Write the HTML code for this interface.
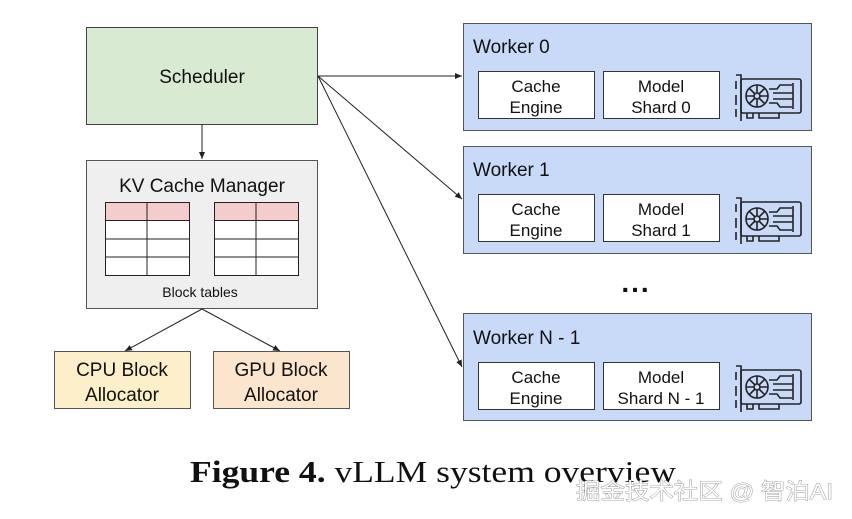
<!DOCTYPE html>
<html><head><meta charset="utf-8"><style>
html,body{margin:0;padding:0;background:#fff;width:852px;height:519px;overflow:hidden}
svg{display:block}
text{font-family:"Liberation Sans",Arial,sans-serif;fill:#111}
</style></head><body>
<svg width="852" height="519" viewBox="0 0 852 519" xmlns="http://www.w3.org/2000/svg">
<defs>
<marker id="a" markerWidth="8" markerHeight="8" refX="7" refY="4" orient="auto" markerUnits="userSpaceOnUse">
<path d="M0,1 L7,4 L0,7 z" fill="#222"/></marker>
<g id="gpu" fill="none" stroke="#222" stroke-width="1.6">
<rect x="8" y="6" width="60" height="34" rx="2"/>
<path d="M3,2 L8,2 L8,48 M3,8 v8 M3,22 v10 M3,36 v8"/>
<circle cx="24" cy="23" r="11"/><circle cx="24" cy="23" r="3"/>
<path d="M24,12 L24,20 M35,23 L27,23 M24,34 L24,26 M13,23 L21,23 M16,15 L22,21 M32,31 L26,25 M32,15 L26,21 M16,31 L22,25"/>
<path d="M36,16 h8 l3,-4 h12 M36,30 h8 l3,4 h12 M40,20 h20 M40,26 h20 M60,10 v26"/>
<path d="M14,40 v5 h6 v-5 M26,40 v5 h20 v-5"/>
</g>
</defs>
<rect x="86.5" y="27.5" width="231" height="97" fill="#d9ead3" stroke="#444"/>
<text x="202" y="83" font-size="19" text-anchor="middle">Scheduler</text>
<line x1="202" y1="124" x2="202" y2="159" stroke="#222" marker-end="url(#a)"/>
<rect x="86.5" y="160.5" width="231" height="148" fill="#efefef" stroke="#555"/>
<text x="202" y="192" font-size="19" text-anchor="middle">KV Cache Manager</text>
<g stroke="#222" stroke-width="1">
<rect x="105.5" y="202.5" width="84" height="18" fill="#f4cccc"/>
<rect x="105.5" y="220.5" width="84" height="55" fill="#fff"/>
<line x1="105" y1="239" x2="190" y2="239"/><line x1="105" y1="257" x2="190" y2="257"/><line x1="147" y1="202" x2="147" y2="276"/>
<rect x="214.5" y="202.5" width="84" height="18" fill="#f4cccc"/>
<rect x="214.5" y="220.5" width="84" height="55" fill="#fff"/>
<line x1="214" y1="239" x2="299" y2="239"/><line x1="214" y1="257" x2="299" y2="257"/><line x1="256" y1="202" x2="256" y2="276"/>
</g>
<text x="200" y="297" font-size="14" text-anchor="middle">Block tables</text>
<line x1="202" y1="309" x2="125" y2="351" stroke="#222" marker-end="url(#a)"/>
<line x1="202" y1="309" x2="280" y2="351" stroke="#222" marker-end="url(#a)"/>
<rect x="54.5" y="351.5" width="136" height="57" fill="#fcefc9" stroke="#555"/>
<text x="122" y="376" font-size="19" text-anchor="middle">CPU Block</text>
<text x="122" y="401" font-size="19" text-anchor="middle">Allocator</text>
<rect x="213.5" y="351.5" width="136" height="57" fill="#fbe5cd" stroke="#555"/>
<text x="281" y="376" font-size="19" text-anchor="middle">GPU Block</text>
<text x="281" y="401" font-size="19" text-anchor="middle">Allocator</text>
<line x1="318" y1="76" x2="462" y2="76" stroke="#222" marker-end="url(#a)"/>
<line x1="318" y1="76" x2="462" y2="199" stroke="#222" marker-end="url(#a)"/>
<line x1="318" y1="76" x2="462" y2="367" stroke="#222" marker-end="url(#a)"/>
<g>
<rect x="463.5" y="23.5" width="348" height="107" fill="#c9daf8" stroke="#555"/>
<text x="473" y="53" font-size="19">Worker 0</text>
<rect x="478.5" y="71.5" width="116" height="47" fill="#fff" stroke="#333"/>
<text x="536" y="92" font-size="17" text-anchor="middle">Cache</text>
<text x="536" y="113" font-size="17" text-anchor="middle">Engine</text>
<rect x="603.5" y="71.5" width="116" height="47" fill="#fff" stroke="#333"/>
<text x="661" y="92" font-size="17" text-anchor="middle">Model</text>
<text x="661" y="113" font-size="17" text-anchor="middle">Shard 0</text>
<use href="#gpu" x="733" y="73"/>
</g>
<g>
<rect x="463.5" y="146.5" width="348" height="107" fill="#c9daf8" stroke="#555"/>
<text x="473" y="176" font-size="19">Worker 1</text>
<rect x="478.5" y="194.5" width="116" height="47" fill="#fff" stroke="#333"/>
<text x="536" y="215" font-size="17" text-anchor="middle">Cache</text>
<text x="536" y="236" font-size="17" text-anchor="middle">Engine</text>
<rect x="603.5" y="194.5" width="116" height="47" fill="#fff" stroke="#333"/>
<text x="661" y="215" font-size="17" text-anchor="middle">Model</text>
<text x="661" y="236" font-size="17" text-anchor="middle">Shard 1</text>
<use href="#gpu" x="733" y="196"/>
</g>
<text x="636" y="292" font-size="28" text-anchor="middle" font-weight="bold" letter-spacing="2">...</text>
<g>
<rect x="463.5" y="313.5" width="348" height="107" fill="#c9daf8" stroke="#555"/>
<text x="473" y="344" font-size="19">Worker N - 1</text>
<rect x="478.5" y="362.5" width="116" height="47" fill="#fff" stroke="#333"/>
<text x="536" y="383" font-size="17" text-anchor="middle">Cache</text>
<text x="536" y="404" font-size="17" text-anchor="middle">Engine</text>
<rect x="603.5" y="362.5" width="116" height="47" fill="#fff" stroke="#333"/>
<text x="661" y="383" font-size="17" text-anchor="middle">Model</text>
<text x="661" y="404" font-size="17" text-anchor="middle">Shard N - 1</text>
<use href="#gpu" x="733" y="364"/>
</g>
<text x="190" y="482" font-size="31" textLength="486" lengthAdjust="spacingAndGlyphs" style="font-family:'Liberation Serif',serif"><tspan font-weight="bold">Figure 4.</tspan> vLLM system overview</text>
<text x="576" y="499" font-size="22" textLength="257" lengthAdjust="spacingAndGlyphs" style="font-family:'Liberation Sans','Noto Sans CJK SC',sans-serif;fill:#fff;stroke:#888;stroke-width:0.8;paint-order:stroke">掘金技术社区 @ 智泊AI</text>
</svg>
</body></html>
